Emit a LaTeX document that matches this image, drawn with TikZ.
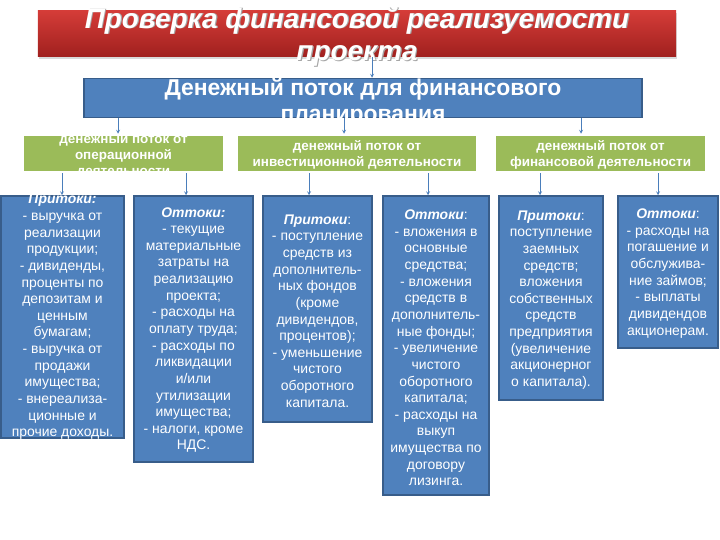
\documentclass[tikz,border=0pt]{standalone}
\usepackage{fontspec}
\setmainfont{Liberation Sans}
\usetikzlibrary{shadows}
\definecolor{redtop}{RGB}{212,60,56}
\definecolor{redbot}{RGB}{160,32,30}
\definecolor{boxblue}{RGB}{79,129,189}
\definecolor{blueline}{RGB}{56,93,138}
\definecolor{boxgreen}{RGB}{155,187,89}
\definecolor{linkblue}{RGB}{74,126,187}
\begin{document}
\begin{tikzpicture}[x=1bp,y=-1bp,>=stealth,
  redbox/.style={draw=none, top color=redtop, bottom color=redbot,
    drop shadow={opacity=.3, shadow xshift=1bp, shadow yshift=-2bp}},
  bluebox/.style={draw=blueline, line width=1.5bp, fill=boxblue},
  greenbox/.style={draw=white, line width=2.5bp, fill=boxgreen,
    drop shadow={opacity=.35, shadow xshift=1bp, shadow yshift=-1.5bp}},
  titletext/.style={text=white, align=center, inner sep=0pt,
    font=\fontsize{28}{33}\selectfont\bfseries\itshape},
  headtext/.style={text=white, align=center, inner sep=0pt,
    font=\fontsize{23}{26}\selectfont\bfseries},
  greentext/.style={text=white, align=center, inner sep=0pt,
    font=\fontsize{13.5}{16}\selectfont\bfseries},
  boxtext/.style={text=white, align=center, inner sep=0pt,
    font=\fontsize{14}{16.7}\selectfont},
  conn/.style={->, draw=linkblue, line width=.75bp}]
  \useasboundingbox (0,0) rectangle (720,540);

  % boxes
  \path
  (357,34) node[redbox, minimum width=638bp, minimum height=46bp] (title) {}
  (363,98) node[bluebox, minimum width=558bp, minimum height=39bp] (plan) {}
  (123.5,153.5) node[greenbox, minimum width=201bp, minimum height=37bp] (oper) {}
  (357,153.5) node[greenbox, minimum width=240bp, minimum height=37bp] (invest) {}
  (600.5,153.5) node[greenbox, minimum width=211bp, minimum height=37bp] (finance) {}
  (62.5,317) node[bluebox, minimum width=123bp, minimum height=242bp] (operin) {}
  (193.5,329) node[bluebox, minimum width=119bp, minimum height=266bp] (operout) {}
  (317.5,309) node[bluebox, minimum width=109bp, minimum height=226bp] (investin) {}
  (436,345.5) node[bluebox, minimum width=106bp, minimum height=299bp] (investout) {}
  (551,298) node[bluebox, minimum width=104bp, minimum height=204bp] (financein) {}
  (668,272) node[bluebox, minimum width=100bp, minimum height=152bp] (financeout) {};

  % texts
  \path (358.2,37.8) node[titletext, text=black!35] (titleshade)
    {Проверка финансовой реализуемости\\проекта};
  \path (357,37) node[titletext] (titletxt)
    {Проверка финансовой реализуемости\\проекта};
  \path (363,102) node[headtext] (plantxt)
    {Денежный поток для финансового\\планирования};
  \path
  (oper.center) ++(0,2) node[greentext] (opertxt)
    {денежный поток от\\операционной\\деятельности}
  (invest.center) ++(0,1.5) node[greentext] (investtxt)
    {денежный поток от\\инвестиционной деятельности}
  (finance.center) ++(0,1.5) node[greentext] (financetxt)
    {денежный поток от\\финансовой деятельности};
  \path
  (62.5,317) node[boxtext] (operintxt)
    {\textbf{\textit{Притоки:}}\\- выручка от\\реализации\\продукции;\\- дивиденды,\\
     проценты по\\депозитам и\\ценным\\бумагам;\\- выручка от\\продажи\\
     имущества;\\- внереализа-\\ционные и\\прочие доходы.}
  (193.5,330) node[boxtext] (operouttxt)
    {\textbf{\textit{Оттоки:}}\\- текущие\\материальные\\затраты на\\реализацию\\
     проекта;\\- расходы на\\оплату труда;\\- расходы по\\ликвидации\\и/или\\
     утилизации\\имущества;\\- налоги, кроме\\НДС.}
  (317.5,311) node[boxtext] (investintxt)
    {\textbf{\textit{Притоки}}:\\- поступление\\средств из\\дополнитель-\\
     ных фондов\\(кроме\\дивидендов,\\процентов);\\- уменьшение\\чистого\\
     оборотного\\капитала.}
  (436,348) node[boxtext] (investouttxt)
    {\textbf{\textit{Оттоки}}:\\- вложения в\\основные\\средства;\\- вложения\\
     средств в\\дополнитель-\\ные фонды;\\- увеличение\\чистого\\оборотного\\
     капитала;\\- расходы на\\выкуп\\имущества по\\договору\\лизинга.}
  (551,300) node[boxtext] (financeintxt)
    {\textbf{\textit{Притоки}}:\\поступление\\заемных\\средств;\\вложения\\
     собственных\\средств\\предприятия\\(увеличение\\акционерног\\о капитала).}
  (668,273.5) node[boxtext] (financeouttxt)
    {\textbf{\textit{Оттоки}}:\\- расходы на\\погашение и\\обслужива-\\
     ние займов;\\- выплаты\\дивидендов\\акционерам.};

  % connectors
  \draw[conn] (title.south -| 372,0) -- (plan.north -| 372,0);
  \draw[conn] (plan.south -| 118,0) -- (oper.north -| 118,0);
  \draw[conn] (plan.south -| 344,0) -- (invest.north -| 344,0);
  \draw[conn] (plan.south -| 581,0) -- (finance.north -| 581,0);
  \draw[conn] (oper.south -| 62,0) -- (operin.north -| 62,0);
  \draw[conn] (oper.south -| 186,0) -- (operout.north -| 186,0);
  \draw[conn] (invest.south -| 309,0) -- (investin.north -| 309,0);
  \draw[conn] (invest.south -| 428,0) -- (investout.north -| 428,0);
  \draw[conn] (finance.south -| 540,0) -- (financein.north -| 540,0);
  \draw[conn] (finance.south -| 658,0) -- (financeout.north -| 658,0);
\end{tikzpicture}
\end{document}
